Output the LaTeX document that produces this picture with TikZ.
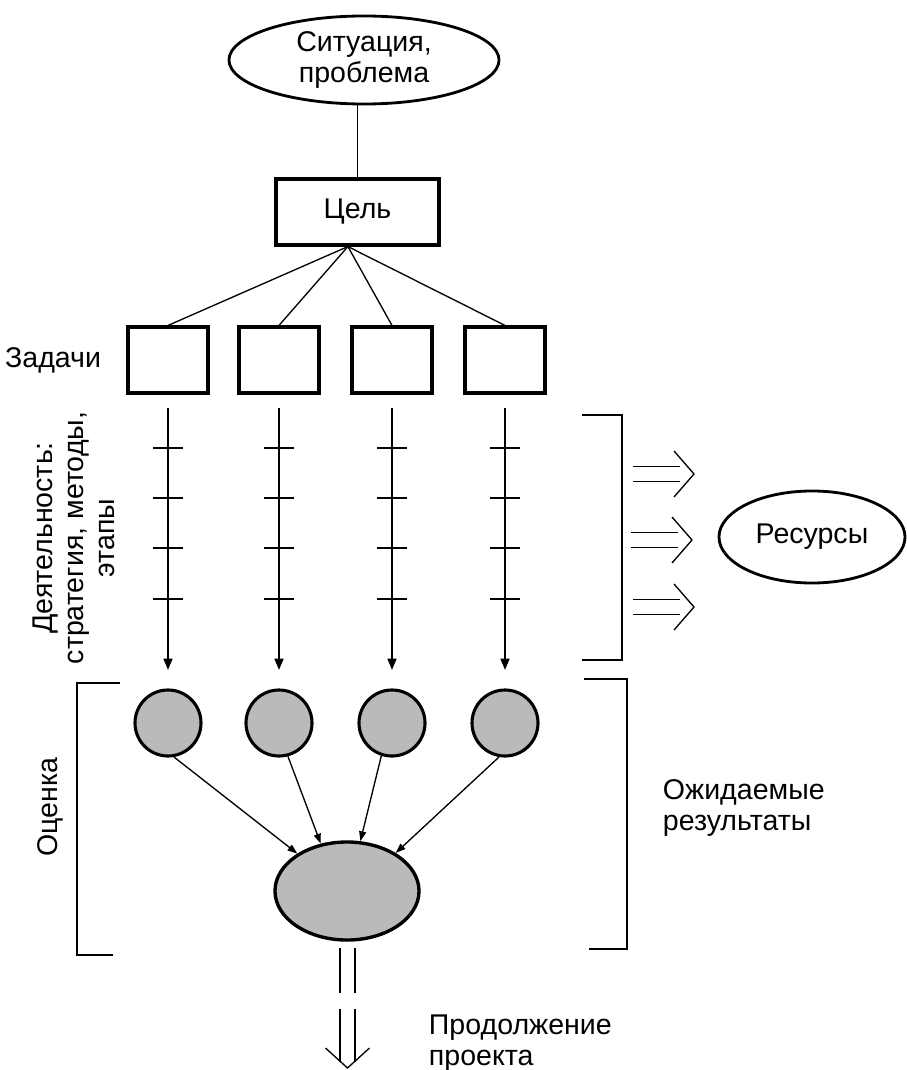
\documentclass[tikz,border=0pt]{standalone}
\usepackage{fontspec}
\setmainfont{Liberation Sans}
\usepackage{tikz}
\usetikzlibrary{arrows.meta,shapes.geometric}
\tikzset{
	every node/.style={font=\fontsize{20.3}{22}\selectfont},
	thinline/.style={line width=0.95pt},
	box/.style={draw, line width=2.2pt, inner sep=0pt},
	oval/.style={draw, ellipse, line width=2pt, inner sep=0pt, align=center},
	stage/.style={draw, circle, line width=2.2pt, fill=black!27, minimum size=1.65cm, inner sep=0pt},
	arr/.style={thinline, -{Triangle[length=8pt,width=6.5pt]}},
	smallarr/.style={thinline, -{Triangle[length=7pt,width=5pt]}}
}
\def\rightdbl(#1,#2){\draw[thinline] (#1,#2-7.5) -- (#1+47,#2-7.5); \draw[thinline] (#1,#2+7.5) -- (#1+47,#2+7.5); \draw[thinline] (#1+41,#2-23) -- (#1+61,#2) -- (#1+41,#2+23);}

\begin{document}
\begin{tikzpicture}[x=0.025cm, y=-0.025cm]
			%%%%% START %%%%%
			\useasboundingbox (0,0) rectangle (906,1070);
			
			\node[oval, minimum width=6.75cm, minimum height=2.2cm] (sit) at (364,60) {Ситуация,\\проблема};
			\node[box, minimum width=4.075cm, minimum height=1.65cm] (goal) at (357.5,212) {Цель};
			\draw[thinline] (goal.north |- sit.south) -- (goal.north);
			\coordinate (fork) at ([xshift=-0.24cm]goal.south);
			
			\foreach \x [count=\i] in {168,279,392,505} {
				\node[box, minimum width=2cm, minimum height=1.65cm] (t\i) at (\x,360) {};
				\node[stage] (c\i) at (\x,723) {};
				\draw[thinline] (fork) -- (t\i.north);
				\draw[arr, shorten <=0.34cm, shorten >=0.465cm] (t\i.south) -- (c\i.north);
				\foreach \y in {448,498,548,599}
					\draw[thinline] (\x-15,\y) -- (\x+15,\y);
			}
			
			\node[anchor=east] (tasks) at (106,360) {Задачи};
			\node[rotate=90, align=center] (work) at (74,538) {Деятельность:\\стратегия, методы,\\этапы};
			
			\draw[thinline] (582,415) -- (622,415) -- (622,660) -- (582,660);
			\rightdbl(633,474)
			\rightdbl(631,540)
			\rightdbl(633,607)
			\node[oval, minimum width=4.65cm, minimum height=2.3cm] (res) at (812,537) {Ресурсы};
			
			\node[oval, fill=black!27, line width=2.4pt, minimum width=3.6cm, minimum height=2.45cm] (final) at (347,891) {};
			\draw[smallarr] (c1.-80) -- (final.143);
			\draw[smallarr] (c2.-75) -- (final.119);
			\draw[smallarr] (c3.-108) -- (final.75);
			\draw[smallarr] (c4.-100) -- (final.38);
			
			\draw[thinline] (120,683) -- (77,683) -- (77,955) -- (113,955);
			\node[rotate=90] (eval) at (50,807) {Оценка};
			\draw[thinline] (584,679) -- (627,679) -- (627,949) -- (589,949);
			\node[anchor=west, align=left] (expect) at (658,808) {Ожидаемые\\результаты};
			
			\draw[thinline] (340,948) -- (340,993);
			\draw[thinline] (355,948) -- (355,993);
			\draw[thinline] (340,1009) -- (340,1062);
			\draw[thinline] (355,1009) -- (355,1062);
			\draw[thinline] (325.5,1048) -- (347.5,1068) -- (369.5,1048);
			\node[anchor=west, align=left] (next) at (424,1043) {Продолжение\\проекта};
			
			%%%%% END %%%%%
\end{tikzpicture}
\end{document}
